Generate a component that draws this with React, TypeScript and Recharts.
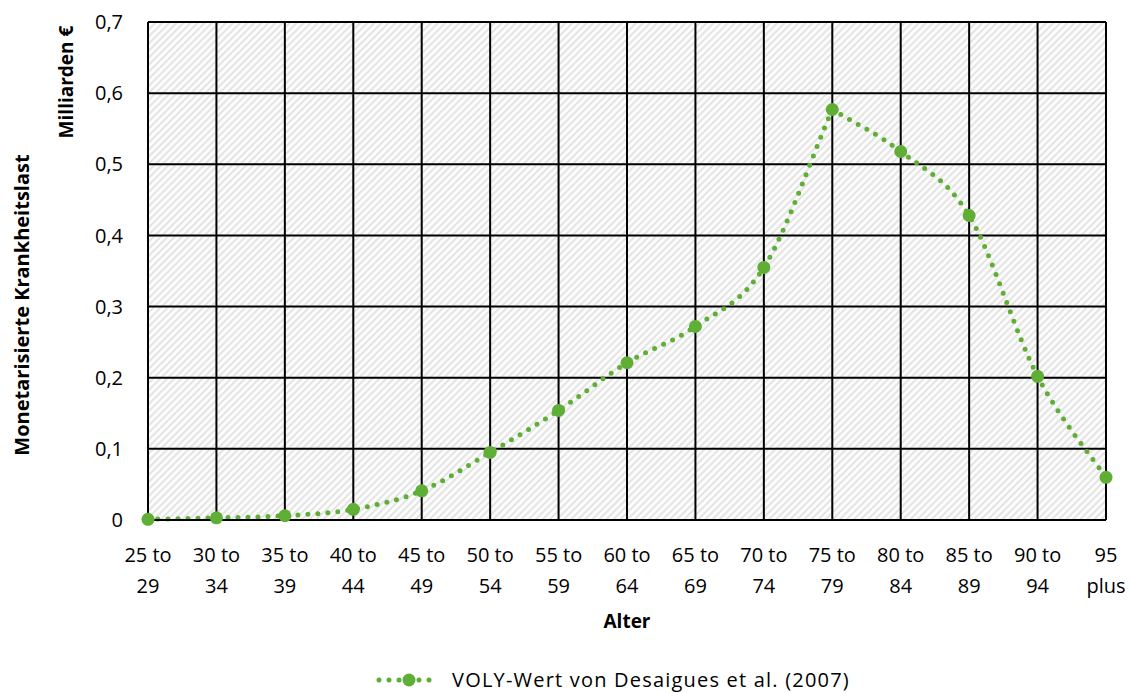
import { LineChart, Line, XAxis, YAxis, CartesianGrid, Legend } from "recharts";

document.body.style.margin = "0";

// Altersgruppen, je zwei Zeilen in der Achsenbeschriftung
const ageTop = ["25 to", "30 to", "35 to", "40 to", "45 to", "50 to", "55 to", "60 to", "65 to", "70 to", "75 to", "80 to", "85 to", "90 to", "95"];
const ageBottom = ["29", "34", "39", "44", "49", "54", "59", "64", "69", "74", "79", "84", "89", "94", "plus"];

// Monetarisierte Krankheitslast in Mrd. €
const volyValues = [0.001, 0.003, 0.006, 0.015, 0.041, 0.095, 0.154, 0.221, 0.272, 0.355, 0.577, 0.518, 0.428, 0.202, 0.06];

const yTicks = [0, 0.1, 0.2, 0.3, 0.4, 0.5, 0.6, 0.7];

const seriesName = "VOLY-Wert von Desaigues et al. (2007)";

const data = ageTop.map((t, i) => ({
  age: `${t} ${ageBottom[i]}`,
  voly: volyValues[i],
}));

const FONT = "'Open Sans', sans-serif";
const GREEN = "#5fae35";

// Geglättete Linie: Catmull-Rom, an Extremstellen mit Knick statt Überschwingen
class SmoothCurve {
  _ctx: any;
  _pts: number[][] = [];
  constructor(ctx: any) {
    this._ctx = ctx;
  }
  areaStart() {}
  areaEnd() {}
  lineStart() {
    this._pts = [];
  }
  point(x: number, y: number) {
    this._pts.push([+x, +y]);
  }
  lineEnd() {
    const p = this._pts;
    const n = p.length;
    if (!n) return;
    const sub = (a: number[], b: number[]) => [a[0] - b[0], a[1] - b[1]];
    const half = (v: number[]) => [v[0] / 2, v[1] / 2];
    const mIn: number[][] = [];
    const mOut: number[][] = [];
    for (let i = 0; i < n; i++) {
      if (i === 0) {
        mIn[i] = mOut[i] = half(sub(p[1] || p[0], p[0]));
      } else if (i === n - 1) {
        mIn[i] = mOut[i] = half(sub(p[i], p[i - 1]));
      } else {
        const extremum = (p[i][1] - p[i - 1][1]) * (p[i + 1][1] - p[i][1]) < 0 && Math.abs(p[i + 1][1] - p[i - 1][1]) > 20;
        if (extremum) {
          mIn[i] = sub(p[i], p[i - 1]);
          mOut[i] = sub(p[i + 1], p[i]);
        } else {
          mIn[i] = mOut[i] = half(sub(p[i + 1], p[i - 1]));
        }
      }
    }
    this._ctx.moveTo(p[0][0], p[0][1]);
    for (let i = 0; i < n - 1; i++) {
      this._ctx.bezierCurveTo(
        p[i][0] + mOut[i][0] / 3,
        p[i][1] + mOut[i][1] / 3,
        p[i + 1][0] - mIn[i + 1][0] / 3,
        p[i + 1][1] - mIn[i + 1][1] / 3,
        p[i + 1][0],
        p[i + 1][1]
      );
    }
  }
}
const smooth = (ctx: any) => new SmoothCurve(ctx);

const AgeTick = ({ x, y, index }: any) => (
  <g transform={`translate(${x},${y})`}>
    <text textAnchor="middle" fontSize={20} fill="#000" fontFamily={FONT}>
      <tspan x={0} dy={34}>{ageTop[index]}</tspan>
      <tspan x={0} dy={31}>{ageBottom[index]}</tspan>
    </text>
  </g>
);

const fmt = (v: number) => (v === 0 ? "0" : v.toFixed(1).replace(".", ","));

const YTitle = ({ viewBox }: any) => {
  const { y, height } = viewBox;
  return (
    <g fontFamily={FONT} fontWeight="bold" fill="#000">
      <text transform={`translate(29,${y + height / 2 + 34}) rotate(-90)`} textAnchor="middle" fontSize={20}>
        Monetarisierte Krankheitslast
      </text>
      <text transform={`translate(73,${y + 60}) rotate(-90)`} textAnchor="middle" fontSize={19}>
        Milliarden €
      </text>
    </g>
  );
};

const LegendBox = () => (
  <div
    style={{
      display: "flex",
      justifyContent: "center",
      alignItems: "center",
      fontFamily: FONT,
      fontSize: 20,
      lineHeight: "20px",
      letterSpacing: 1.2,
      height: 20,
      paddingLeft: 120,
    }}
  >
    <svg width={66} height={16} style={{ marginRight: 10 }}>
      <line x1={3} y1={8} x2={63} y2={8} stroke={GREEN} strokeWidth={5} strokeDasharray="0 10" strokeLinecap="round" />
      <circle cx={33} cy={8} r={6.5} fill={GREEN} />
    </svg>
    <span>{seriesName}</span>
  </div>
);

export default function App() {
  return (
    <div style={{ width: 1130, height: 693, background: "#fff" }}>
      <LineChart width={1130} height={693} data={data} margin={{ top: 22, right: 24, left: 0, bottom: 3 }}>
        <defs>
          <pattern id="hatch" width="5" height="5" patternUnits="userSpaceOnUse" patternTransform="rotate(45)">
            <rect width="5" height="5" fill="#fcfcfc" />
            <rect width="2" height="5" fill="#e4e4e4" />
          </pattern>
        </defs>
        <CartesianGrid stroke="#000" strokeWidth={2} fill="url(#hatch)" fillOpacity={1} />
        <XAxis
          dataKey="age"
          interval={0}
          tick={<AgeTick />}
          tickLine={false}
          axisLine={{ stroke: "#000", strokeWidth: 2 }}
          height={150}
          label={{ value: "Alter", position: "insideTop", dy: 90, fontSize: 19, fontWeight: "bold", fill: "#000", fontFamily: FONT }}
        />
        <YAxis
          domain={[0, 0.7]}
          ticks={yTicks}
          tickFormatter={fmt}
          width={148}
          tickLine={false}
          axisLine={{ stroke: "#000", strokeWidth: 2 }}
          tick={{ fontSize: 20, fill: "#000", fontFamily: FONT }}
          tickMargin={19}
          label={<YTitle />}
        />
        <Legend verticalAlign="bottom" content={<LegendBox />} />
        <Line
          dataKey="voly"
          name={seriesName}
          type={smooth as any}
          stroke={GREEN}
          strokeWidth={5}
          strokeDasharray="0 10"
          strokeLinecap="round"
          dot={{ r: 6.5, fill: GREEN, stroke: "none", strokeDasharray: "" }}
          activeDot={false}
          isAnimationActive={false}
        />
      </LineChart>
    </div>
  );
}
